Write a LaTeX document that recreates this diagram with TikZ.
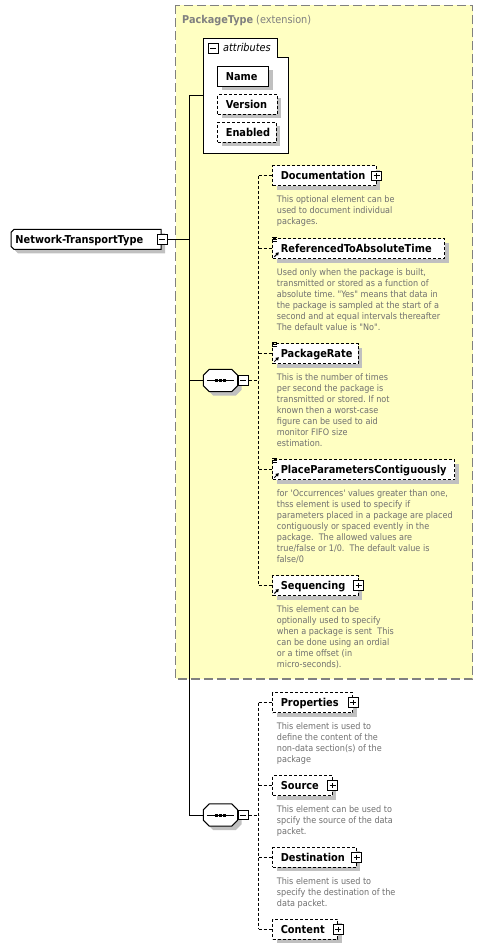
\documentclass[tikz,border=0pt]{standalone}
\usepackage{fontspec}
\setmainfont{DejaVu Sans Condensed}
\usetikzlibrary{positioning,shadows,arrows.meta}

\definecolor{xsdyellow}{RGB}{255,255,194}
\definecolor{xsdgray}{RGB}{128,128,128}
\definecolor{xsdtext}{RGB}{112,112,112}
\definecolor{xsdshadow}{RGB}{192,192,192}

\newcommand{\elemfont}{\fontsize{10.9}{13}\selectfont\bfseries\hyphenpenalty=10000 \exhyphenpenalty=10000 }
\newcommand{\descfont}{\fontsize{9}{11}\selectfont\frenchspacing}
\newcommand{\headfont}{\fontsize{10.8}{13}\selectfont}
% small icons of referenced elements
\newcommand{\xsdrefmark}[1]{\draw[line width=1pt, -{Triangle[length=3pt,width=3.5pt]}]
  ([xshift=2pt,yshift=2.5pt]#1.south west) -- ++(4.5,-4.5);}
\newcommand{\xsdlistmark}[1]{\foreach \dy in {-1,1,3}
  \draw[line width=0.8pt] ([shift={(0,\dy)}]#1.north west) -- ++(5,0);}
% octagon of a sequence compositor
\newcommand{\xsdoctagon}[1]{%
  \draw[line width=1pt, fill=white, boxshadow]
    ([xshift=6pt]#1.north west) -- ([xshift=-6pt]#1.north east) -- ([yshift=-6pt]#1.north east)
    -- ([yshift=6pt]#1.south east) -- ([xshift=-6pt]#1.south east) -- ([xshift=6pt]#1.south west)
    -- ([yshift=6pt]#1.south west) -- ([yshift=-6pt]#1.north west) -- cycle;
  \draw[line width=1pt] ([xshift=3.5pt]#1.west) -- ([xshift=-3.5pt]#1.east);
  \foreach \dx in {-4,0,4}
    \fill ([xshift=\dx pt]#1.center) +(-1.5,-1.5) rectangle +(1.5,1.5);}

\begin{document}
\begin{tikzpicture}[x=1pt, y=-1pt,
    wire/.style = {line width=1pt},
    conn/.style = {line width=1pt, dash pattern=on 3pt off 2pt},
    boxshadow/.style = {drop shadow={opacity=1, fill=xsdshadow,
        shadow xshift=4pt, shadow yshift=-4pt}},
    plainbox/.style = {anchor=west,
        minimum height=20pt, inner xsep=8pt, inner ysep=0pt,
        text height=7.9pt, text depth=0pt,
        text width=#1, align=left, font=\elemfont},
    elem/.style = {plainbox=#1, draw, line width=1pt, dash pattern=on 3pt off 2pt,
        fill=white, boxshadow},
    pm/.style = {draw, solid, line width=1pt, fill=white,
        minimum width=10pt, minimum height=9.5pt, inner sep=0pt},
    plus/.style = {pm, path picture={
        \draw[line width=1pt]
        ([yshift=-2pt]path picture bounding box.north) -- ([yshift=2pt]path picture bounding box.south)
        ([xshift=2pt]path picture bounding box.west) -- ([xshift=-2pt]path picture bounding box.east);}},
    minus/.style = {pm, path picture={
        \draw[line width=1pt]
        ([xshift=2pt]path picture bounding box.west) -- ([xshift=-2pt]path picture bounding box.east);}},
    compositor/.style = {minimum width=34pt, minimum height=22pt, inner sep=0pt, anchor=west},
    desc/.style = {below right=9.3pt and 4.4pt of #1.south west,
        align=left, inner sep=0pt, text=xsdtext, font=\descfont},
  ]
  \useasboundingbox (0,0) rectangle (483,949);

  % extension box
  \draw[line width=1.5pt, draw=xsdgray, dash pattern=on 9pt off 4pt, fill=xsdyellow]
    (175.5,5.5) rectangle (472.5,679);
  \node[anchor=base west, inner sep=0pt, text=xsdgray, font=\headfont] (head) at (182,23.3)
    {\textbf{PackageType} (extension)};

  % attributes
  \node[anchor=north west, minimum width=85pt, minimum height=115pt, inner sep=0pt] (attr) at (203.3,38.3) {};
  \draw[wire, fill=white] (attr.north west) -- ([xshift=-11.6pt]attr.north east) -- ++(0,19)
    -- ([yshift=-19pt]attr.north east) -- (attr.south east) -- (attr.south west) -- cycle;
  \node[minus] (attr-pm) at (213,48.5) {};
  \node[anchor=base west, inner sep=0pt, font=\headfont\itshape] (attr-lbl) at (223,52) {attributes};
  \node[elem=35pt, solid] (name) at (217.3,76.3) {Name};
  \node[elem=43.4pt] (version) at (217.3,104.5) {Version};
  \node[elem=42.4pt] (enabled) at (217.3,132.3) {Enabled};

  % root element
  \draw[wire, fill=white, boxshadow] (14,229.3) -- (161,229.3) -- (161,249.3) -- (14,249.3)
    -- (11,246.3) -- (11,232.3) -- cycle
    node[plainbox=142pt, inner xsep=4pt] (net) at (11,239.3) {Network-TransportType};
  \node[minus] (net-pm) at (net.east) {};

  \coordinate (spine) at (189,0);
  \draw[wire] (net-pm.east) -- (net-pm.east -| spine);

  % first sequence
  \node[compositor] (seq1) at (203.3,380.5) {};
  \xsdoctagon{seq1}
  \node[minus, anchor=west] (seq1-pm) at (seq1.east) {};

  \node[elem=87.4pt] (doc) at (272.3,176) {Documentation};
  \node[plus] (doc-pm) at (doc.east) {};
  \node[desc=doc] (doc-txt) {This optional element can be\\used to document individual\\packages.};

  \node[elem=155.7pt] (ref) at (272.3,248.8) {ReferencedToAbsoluteTime};
  \node[desc=ref] (ref-txt) {Used only when the package is built,\\transmitted or stored as a function of\\absolute time. \textquotedbl Yes\textquotedbl{} means that data in\\the package is sampled at the start of a\\second and at equal intervals thereafter\\The default value is \textquotedbl No\textquotedbl.};

  \node[elem=69.4pt] (rate) at (272.3,353.7) {PackageRate};
  \node[desc=rate] (rate-txt) {This is the number of times\\per second the package is\\transmitted or stored. If not\\known then a worst-case\\figure can be used to aid\\monitor FIFO size\\estimation.};

  \node[elem=166pt] (ppc) at (272.3,469.7) {PlaceParametersContiguously};
  \node[desc=ppc] (ppc-txt) {for \textquotesingle Occurrences\textquotesingle{} values greater than one,\\thss element is used to specify if\\parameters placed in a package are placed\\contiguously or spaced evently in the\\package.~ The allowed values are\\true/false or 1/0.~ The default value is\\false/0};

  \node[elem=69.4pt] (sequ) at (272.3,585.5) {Sequencing};
  \node[plus] (sequ-pm) at (sequ.east) {};
  \node[desc=sequ] (sequ-txt) {This element can be\\optionally used to specify\\when a package is sent~ This\\can be done using an ordial\\or a time offset (in\\micro-seconds).};

  \xsdlistmark{ref} \xsdrefmark{ref}
  \xsdlistmark{rate} \xsdrefmark{rate}
  \xsdlistmark{ppc} \xsdrefmark{ppc}
  \xsdrefmark{sequ}

  \draw[conn] (seq1-pm.east) -- ++(10,0) coordinate (bus1);
  \draw[conn] (doc.west -| bus1) -- (sequ.west -| bus1);
  \draw[conn] (doc.west -| bus1) -- (doc.west);
  \draw[conn] (ref.west -| bus1) -- (ref.west);
  \draw[conn] (rate.west -| bus1) -- (rate.west);
  \draw[conn] (ppc.west -| bus1) -- (ppc.west);
  \draw[conn] (sequ.west -| bus1) -- (sequ.west);

  % second sequence
  \node[compositor] (seq2) at (203.3,815) {};
  \xsdoctagon{seq2}
  \node[minus, anchor=west] (seq2-pm) at (seq2.east) {};

  \node[elem=64pt] (props) at (272.3,702.5) {Properties};
  \node[plus] (props-pm) at (props.east) {};
  \node[desc=props] (props-txt) {This element is used to\\define the content of the\\non-data section(s) of the\\package};

  \node[elem=43.4pt] (src) at (272.3,785.5) {Source};
  \node[plus] (src-pm) at (src.east) {};
  \node[desc=src] (src-txt) {This element can be used to\\spcify the source of the data\\packet.};

  \node[elem=67.4pt] (dest) at (272.3,857.3) {Destination};
  \node[plus] (dest-pm) at (dest.east) {};
  \node[desc=dest] (dest-txt) {This element is used to\\specify the destination of the\\data packet.};

  \node[elem=49pt] (content) at (272.3,929.3) {Content};
  \node[plus] (content-pm) at (content.east) {};

  \draw[conn] (seq2-pm.east) -- ++(10,0) coordinate (bus2);
  \draw[conn] (props.west -| bus2) -- (content.west -| bus2);
  \draw[conn] (props.west -| bus2) -- (props.west);
  \draw[conn] (src.west -| bus2) -- (src.west);
  \draw[conn] (dest.west -| bus2) -- (dest.west);
  \draw[conn] (content.west -| bus2) -- (content.west);

  % spine
  \draw[wire] (attr.west -| spine) -- (seq2.west -| spine);
  \draw[wire] (attr.west) -- (attr.west -| spine);
  \draw[wire] (seq1.west) -- (seq1.west -| spine);
  \draw[wire] (seq2.west) -- (seq2.west -| spine);
\end{tikzpicture}
\end{document}
